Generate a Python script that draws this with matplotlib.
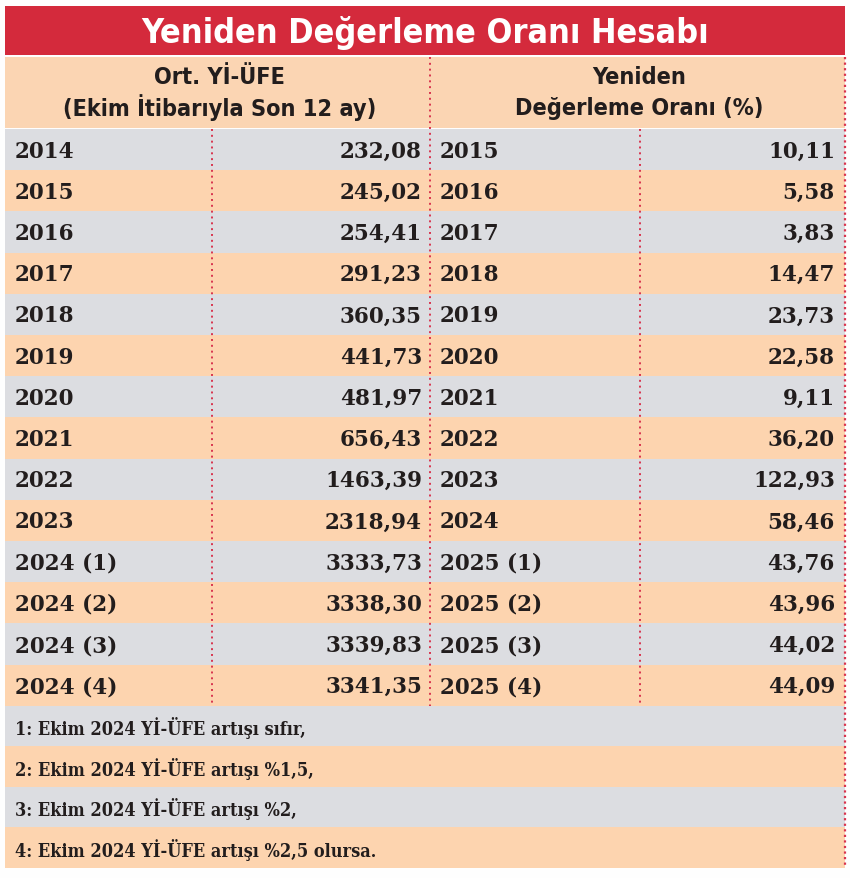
import matplotlib
matplotlib.use("Agg")
import matplotlib.pyplot as plt
from matplotlib.patches import Rectangle

# ---- data ----
title = "Yeniden Değerleme Oranı Hesabı"
header_left = ["Ort. Yİ-ÜFE", "(Ekim İtibarıyla Son 12 ay)"]
header_right = ["Yeniden", "Değerleme Oranı (%)"]
years_left = ["2014", "2015", "2016", "2017", "2018", "2019", "2020", "2021",
              "2022", "2023", "2024 (1)", "2024 (2)", "2024 (3)", "2024 (4)"]
ufe_values = ["232,08", "245,02", "254,41", "291,23", "360,35", "441,73", "481,97",
              "656,43", "1463,39", "2318,94", "3333,73", "3338,30", "3339,83", "3341,35"]
years_right = ["2015", "2016", "2017", "2018", "2019", "2020", "2021", "2022",
               "2023", "2024", "2025 (1)", "2025 (2)", "2025 (3)", "2025 (4)"]
rate_values = ["10,11", "5,58", "3,83", "14,47", "23,73", "22,58", "9,11", "36,20",
               "122,93", "58,46", "43,76", "43,96", "44,02", "44,09"]
footnotes = ["1: Ekim 2024 Yİ-ÜFE artışı sıfır,",
             "2: Ekim 2024 Yİ-ÜFE artışı %1,5,",
             "3: Ekim 2024 Yİ-ÜFE artışı %2,",
             "4: Ekim 2024 Yİ-ÜFE artışı %2,5 olursa."]

# ---- style ----
W, H = 850, 879
RED = "#d42a3c"
GRAY = "#dcdde1"
PEACH = "#fdd4af"
HEAD = "#fbd5b3"
DOT = "#d8344e"
TXT = "#221d1d"

fig = plt.figure(figsize=(W / 100, H / 100), dpi=100)
fig.patch.set_facecolor("#fefefe")
ax = fig.add_axes([0, 0, 1, 1])
ax.set_xlim(0, W)
ax.set_ylim(H, 0)
ax.axis("off")

x0, x1, x2, x3, x4 = 5, 212, 430, 640, 845
title_top, title_bot = 7, 56
head_top, head_bot = 58, 129
row_top, row_h = 130, 41.2
n = len(years_left)
foot_top = row_top + n * row_h
foot_h = 40.5

# title band
ax.add_patch(Rectangle((x0, title_top), x4 - x0, title_bot - title_top, color=RED, lw=0))
ax.text((x0 + x4) / 2, (title_top + title_bot) / 2 + 1, title, color="white",
        fontsize=24.5, fontweight="bold", ha="center", va="center",
        family="DejaVu Sans", fontstretch="condensed")

# header band
ax.add_patch(Rectangle((x0, head_top), x4 - x0, head_bot - head_top, color=HEAD, lw=0))
for i, (l, r) in enumerate(zip(header_left, header_right)):
    y = head_top + 20 + i * 30
    ax.text((x0 + x2) / 2 + 2, y, l, fontsize=16.8, fontweight="bold", ha="center",
            va="center", color=TXT, family="DejaVu Sans", fontstretch="condensed")
    ax.text((x2 + x4) / 2 + 2, y, r, fontsize=16.8, fontweight="bold", ha="center",
            va="center", color=TXT, family="DejaVu Sans", fontstretch="condensed")

# data rows
for i in range(n):
    y = row_top + i * row_h
    ax.add_patch(Rectangle((x0, y), x4 - x0, row_h, color=GRAY if i % 2 == 0 else PEACH, lw=0))
    yc = y + row_h / 2 + 1
    kw = dict(fontsize=15.5, fontweight="bold", va="center", color=TXT, family="DejaVu Serif")
    ax.text(x0 + 10, yc, years_left[i], ha="left", **kw)
    ax.text(x2 - 8, yc, ufe_values[i], ha="right", **kw)
    ax.text(x2 + 10, yc, years_right[i], ha="left", **kw)
    ax.text(x4 - 10, yc, rate_values[i], ha="right", **kw)

# footnotes
for j, t in enumerate(footnotes):
    y = foot_top + j * foot_h
    ax.add_patch(Rectangle((x0, y), x4 - x0, foot_h, color=GRAY if j % 2 == 0 else PEACH, lw=0))
    ax.text(x0 + 10, y + foot_h / 2 + 1, t, ha="left", va="center", fontsize=13,
            fontweight="bold", color=TXT, family="DejaVu Serif", fontstretch="condensed")

# dotted dividers
row_bot = foot_top
for x in (x1, x3):
    ax.plot([x, x], [row_top, row_bot], color=DOT, lw=1.4, ls=(0, (1, 2)))
ax.plot([x2, x2], [head_top, row_bot], color=DOT, lw=1.4, ls=(0, (1, 2)))
ax.plot([x4, x4], [head_top, foot_top + 4 * foot_h], color=DOT, lw=1.6, ls=(0, (1, 1.5)))

fig.savefig("out.png", dpi=100, facecolor=fig.get_facecolor())
